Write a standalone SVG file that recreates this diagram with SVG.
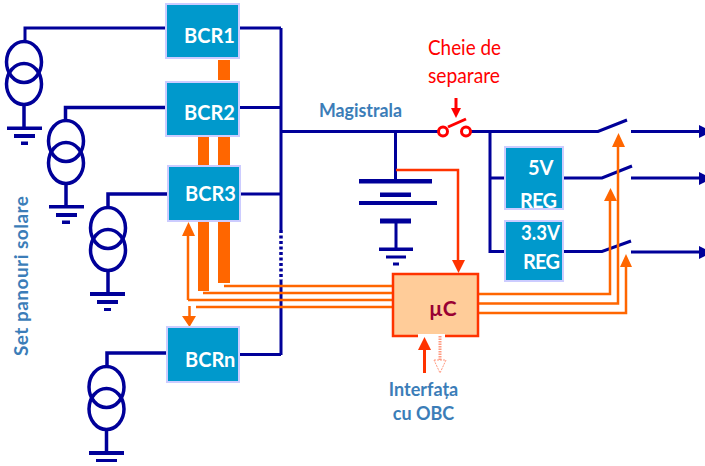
<svg xmlns="http://www.w3.org/2000/svg" width="705" height="466" viewBox="0 0 705 466">
<style>
.w{fill:none;stroke:#000099;stroke-width:3.500}
.o{fill:none;stroke:#ff6600;stroke-width:2.500}
.ob{fill:#ff6600}
.bar{fill:#ff6600}
.box{fill:#0099cc;stroke:#ccccff;stroke-width:2}
text{font-family:Lato,"Open Sans",sans-serif;font-weight:700}
.lb{fill:#fff;font-size:20px}
.bl{fill:#3b7db8;font-size:18px}
.rd{fill:#ff0000;font-size:21px;font-weight:400}
</style>
<defs>
<g id="src" class="w"><ellipse cx="0" cy="0" rx="17.500" ry="20.500"/><ellipse cx="0" cy="22" rx="17.500" ry="20.500"/></g>
</defs>
<rect width="705" height="466" fill="#fff"/>
<g id="connectors">
<path class="w" style="stroke-width:3" d="M25 42V28H166M240 28H281M281 28V230M281 280V355M239 354.500H281M238 107.500H281M240 194H281M281 131.500H438M471 131.500H598L627 120M631 131.500H699M490 131.500V251.500H505M490 178H505M564 178H602L632 166M631 178H699M564 251.500H602L631 241M631 252H699"/>
<path class="w" d="M281 230V280" stroke-dasharray="3 2.500"/>
<path class="w" d="M65.500 120V107.500H167M108 207V194H168M107 366V353H166"/>
<path class="w" d="M24 105V128M66 184V206M108 272V294M106.500 430V453"/>
<path fill="#000099" d="M699 125L705 128V135L699 138ZM699 172L705 175V182L699 185ZM699 246L705 249V256L699 259Z"/>
<path class="w" style="stroke-width:3" d="M395.500 131V181M396 221V249"/>
<path class="o" style="stroke:#ff3300" d="M396 170H458V262"/>
<path fill="#ff3300" d="M452 260H465L458.500 273Z"/>
<path class="o" d="M224 286H393M203 293H393M188 300H393M196 307H393M478 294H610V198M478 303.500H618V145M478 313H626V265M188 300V236"/>
<path class="o" d="M189.500 306V320"/>
<path class="ob" d="M182 316H196L189.500 327ZM182 236L188.500 222L195 236ZM604 201L610.500 188L617 201ZM612 147L618.500 133L625 147ZM620 267L626 254L632 267Z"/>
</g>
<g id="power-bars">
<rect class="bar" x="218" y="60" width="12" height="20"/>
<rect class="bar" x="198" y="137" width="11" height="28"/>
<rect class="bar" x="218" y="137" width="12" height="28"/>
<rect class="bar" x="198" y="222" width="11" height="69"/>
<rect class="bar" x="218" y="222" width="12" height="61"/>
</g>
<g id="source1"><use href="#src" x="24" y="62"/><path fill="#000099" d="M7 126.500H42V130H7ZM14 134H35V138H14ZM21 141.500H28V145H21Z"/></g>
<g id="source2"><use href="#src" x="66" y="141"/><path fill="#000099" d="M49 205H84V208.500H49ZM56 213H77V217H56ZM62 220.500H70V224H62Z"/></g>
<g id="source3"><use href="#src" x="108" y="228"/><path fill="#000099" d="M90 292H125V296H90ZM97 300H118V304H97ZM104 308H111V311H104Z"/></g>
<g id="source4"><use href="#src" x="106.500" y="387"/><path fill="#000099" d="M89 451H124V455H89ZM96 459H117V462H96Z"/></g>
<g id="bcr1"><rect class="box" x="166" y="4" width="73" height="54"/><text class="lb" x="184" y="43">BCR1</text></g>
<g id="bcr2"><rect class="box" x="166" y="82" width="73" height="54"/><text class="lb" x="184" y="120">BCR2</text></g>
<g id="bcr3"><rect class="box" x="168" y="166" width="72" height="55"/><text class="lb" x="185" y="201">BCR3</text></g>
<g id="bcrn"><rect class="box" x="167" y="327" width="72" height="55"/><text class="lb" x="185" y="367">BCRn</text></g>
<g id="reg5"><rect class="box" x="505" y="147" width="58" height="62"/><text class="lb" x="528" y="175">5V</text><text class="lb" x="520" y="208" textLength="37">REG</text></g>
<g id="reg33"><rect class="box" x="505" y="221" width="58" height="60"/><text class="lb" x="521" y="240" textLength="39" lengthAdjust="spacingAndGlyphs">3.3V</text><text class="lb" x="523" y="269" textLength="37">REG</text></g>
<g id="battery"><path fill="#000099" d="M359 179H432V183.500H359ZM380 192.500H411V197H380ZM359 201H437V205H359ZM380 218.500H411V223.500H380ZM379 247.500H413V251H379ZM386 255.500H406V258.500H386ZM393 262.500H399V265.500H393Z"/></g>
<g id="switch"><circle cx="443" cy="131.500" r="4.500" fill="#fff" stroke="#ff0000" stroke-width="3"/><circle cx="466" cy="131.500" r="4.500" fill="#fff" stroke="#ff0000" stroke-width="3"/><path d="M448 127L466 119" stroke="#ff0000" stroke-width="3"/><path d="M456 98V110" stroke="#ff0000" stroke-width="3"/><path fill="#ff0000" d="M451 108H461L456 118Z"/></g>
<g id="uc"><rect x="393" y="274" width="85" height="62" fill="#ffcc99" stroke="#ff3300" stroke-width="2.500"/><rect x="418" y="334" width="27" height="4" fill="#fff"/><text x="429" y="316" font-size="21" fill="#990033">µC</text>
<path d="M424.500 373V348" stroke="#ff3300" stroke-width="3"/><path fill="#ff3300" d="M418 350L424.500 337L431 350Z"/>
<path d="M440 336V360" stroke="#ff9980" stroke-width="3" stroke-dasharray="1.500 1"/><path d="M434 360H446L440 373Z" fill="#fff" stroke="#ff9980" stroke-dasharray="2 1"/></g>
<g id="labels">
<text class="rd" x="428" y="55" textLength="73" lengthAdjust="spacingAndGlyphs">Cheie de</text>
<text class="rd" x="428" y="83" textLength="72" lengthAdjust="spacingAndGlyphs">separare</text>
<text class="bl" x="319" y="117" textLength="83" lengthAdjust="spacingAndGlyphs">Magistrala</text>
<text class="bl" x="423.500" y="396" text-anchor="middle">Interfața</text>
<text class="bl" x="423.500" y="420" text-anchor="middle">cu OBC</text>
<text class="bl" transform="translate(28 356) rotate(-90)" textLength="160" style="font-size:19px">Set panouri solare</text>
</g>
</svg>
